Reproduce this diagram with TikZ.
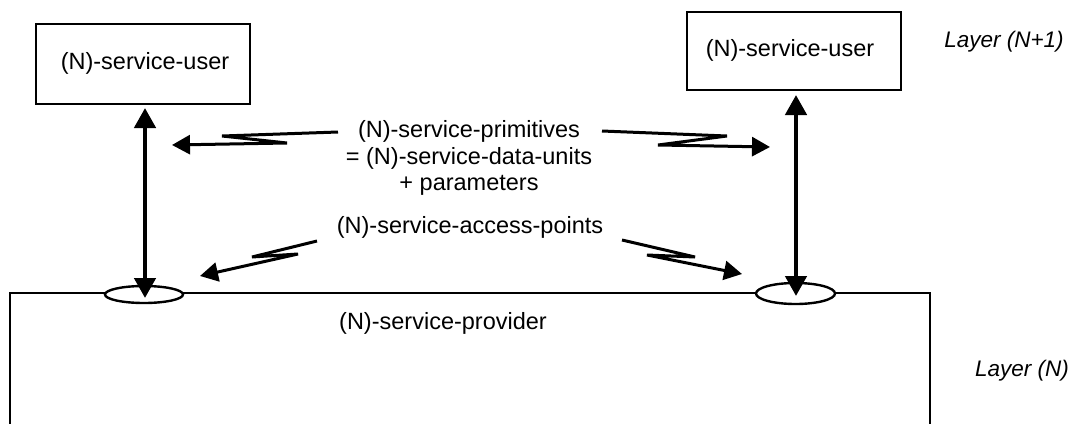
\documentclass[tikz,border=0pt]{standalone}
\usepackage{fontspec}
\setmainfont{Liberation Sans}
\usetikzlibrary{arrows.meta,shapes.geometric}
\begin{document}
\begin{tikzpicture}[x=1pt,y=-1pt,
  txt/.style={font=\fontsize{23.5}{26.5}\selectfont, inner sep=0pt, align=center},
  userbox/.style={draw, line width=2.4pt, inner sep=0pt},
  sap/.style={draw, fill=white, ellipse, line width=2.4pt, inner sep=0pt},
  varrow/.style={line width=4.5pt, {Triangle[length=20pt,width=21pt]}-{Triangle[length=20pt,width=21pt]}},
  zarrow/.style={line width=3pt, -{Triangle[length=18pt,width=19pt]}, line join=miter},
  layer/.style={font=\fontsize{22.5}{25}\selectfont\itshape, inner sep=0pt}]
\useasboundingbox (0,0) rectangle (1076,423);
% provider
\draw[line width=2.4pt] (10,425) -- (10,293) -- (930,293) -- (930,425);
\node[txt] (prov) at (443,323) {(N)-service-provider};
% user boxes
\node[userbox, minimum width=214pt, minimum height=80pt] (lu) at (143,64) {};
\node[txt] (lut) at (145,63) {(N)-service-user};
\node[userbox, minimum width=214pt, minimum height=78pt] (ru) at (794,51) {};
\node[txt] (rut) at (790,50) {(N)-service-user};
% layer labels
\node[layer] (l1) at (1004,42) {Layer (N+1)};
\node[layer] (l0) at (1022,371) {Layer (N)};
% SAP ellipses
\node[sap, minimum width=78pt, minimum height=17pt] (sapL) at (144,294.5) {};
\node[sap, minimum width=79pt, minimum height=21pt] (sapR) at (795.5,293.5) {};
% vertical arrows
\coordinate (lt) at (145,108);
\coordinate (lb) at (145,298);
\coordinate (rt) at (796,95);
\coordinate (rb) at (796,296);
\draw[varrow] (lt) -- (lb);
\draw[varrow] (rt) -- (rb);
% central texts
\node[txt] (prim) at (469,158) {(N)-service-primitives\\= (N)-service-data-units\\+ parameters};
\node[txt] (sapt) at (470,227) {(N)-service-access-points};
% zigzag arrows
\coordinate (a1) at (338,132);
\coordinate (a2) at (222,136);
\coordinate (a3) at (287,143);
\coordinate (a4) at (172,145);
\draw[zarrow] (a1) -- (a2) -- (a3) -- (a4);
\coordinate (b1) at (602,131);
\coordinate (b2) at (727,136);
\coordinate (b3) at (658,145);
\coordinate (b4) at (770,147);
\draw[zarrow] (b1) -- (b2) -- (b3) -- (b4);
\coordinate (c1) at (317,241);
\coordinate (c2) at (252,257);
\coordinate (c3) at (298,254);
\coordinate (c4) at (200,276);
\draw[zarrow] (c1) -- (c2) -- (c3) -- (c4);
\coordinate (d1) at (622,240);
\coordinate (d2) at (695,257);
\coordinate (d3) at (647,255);
\coordinate (d4) at (742,274);
\draw[zarrow] (d1) -- (d2) -- (d3) -- (d4);
\end{tikzpicture}
\end{document}
